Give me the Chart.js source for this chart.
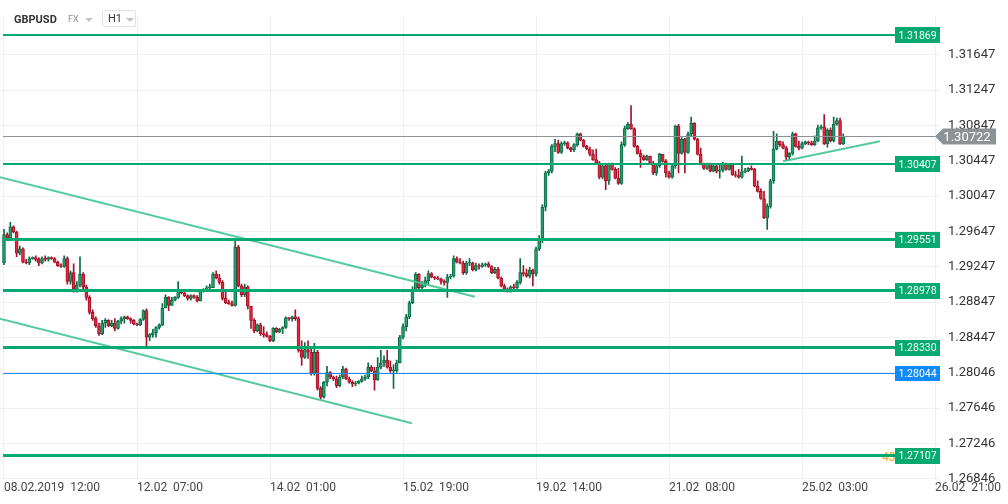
<!DOCTYPE html>
<html>
<head>
<meta charset="utf-8">
<script src="https://cdn.jsdelivr.net/npm/chart.js@4.4.1/dist/chart.umd.min.js"></script>
<style>
  body { margin: 0; background: #fff; font-family: Roboto, sans-serif; }
  #wrap { position: relative; width: 1008px; height: 504px; }
  .hdr { position: absolute; top: 11px; height: 17px; line-height: 17px; color: #333; }
  .sym { left: 14px; font-size: 11px; font-weight: bold; }
  .mkt { left: 68px; font-size: 9px; color: #8c8c8c; }
  .tri { position: absolute; width: 0; height: 0; border-left: 4px solid transparent; border-right: 4px solid transparent; border-top: 4px solid #c4c4c4; }
  .tf { left: 102px; top: 10px; width: 34px; height: 17px; border: 1px solid #e2e2e2; border-radius: 2px; box-sizing: border-box; font-size: 11px; padding-left: 5px; line-height: 15px; }
</style>
</head>
<body>
<div id="wrap">
  <canvas id="chart"></canvas>
  <div class="hdr sym">GBPUSD</div>
  <div class="hdr mkt">FX</div>
  <div class="tri" style="left:85px;top:18px"></div>
  <div class="hdr tf">H1</div>
  <div class="tri" style="left:126px;top:18px"></div>
</div>
<script>
// H1 candles, GBPUSD, 08.02.2019 12:00 onward (one entry per hour)
const firstOpen = 1.2929;
const closes = [
  1.2961, 1.2957, 1.2970, 1.2964, 1.2940, 1.2945, 1.2930, 1.2929, 1.2934, 1.2935,
  1.2933, 1.2929, 1.2934, 1.2933, 1.2935, 1.2934, 1.2930, 1.2926, 1.2925, 1.2934,
  1.2908, 1.2918, 1.2899, 1.2904, 1.2916, 1.2902, 1.2890, 1.2873, 1.2866, 1.2858,
  1.2849, 1.2861, 1.2864, 1.2858, 1.2861, 1.2855, 1.2863, 1.2866, 1.2868, 1.2866,
  1.2864, 1.2860, 1.2859, 1.2865, 1.2875, 1.2845, 1.2848, 1.2850, 1.2856, 1.2859,
  1.2878, 1.2890, 1.2881, 1.2887, 1.2890, 1.2898, 1.2895, 1.2892, 1.2889, 1.2892,
  1.2890, 1.2886, 1.2898, 1.2899, 1.2901, 1.2901, 1.2916, 1.2912, 1.2907, 1.2889,
  1.2884, 1.2883, 1.2881, 1.2947, 1.2903, 1.2893, 1.2902, 1.2880, 1.2864, 1.2852,
  1.2859, 1.2849, 1.2848, 1.2846, 1.2841, 1.2855, 1.2851, 1.2854, 1.2856, 1.2867,
  1.2866, 1.2868, 1.2866, 1.2830, 1.2822, 1.2831, 1.2828, 1.2804, 1.2828, 1.2787,
  1.2777, 1.2794, 1.2805, 1.2800, 1.2798, 1.2790, 1.2800, 1.2809, 1.2798, 1.2794,
  1.2792, 1.2793, 1.2795, 1.2798, 1.2800, 1.2811, 1.2807, 1.2797, 1.2811, 1.2816,
  1.2819, 1.2811, 1.2807, 1.2807, 1.2816, 1.2845, 1.2857, 1.2868, 1.2884, 1.2899,
  1.2916, 1.2901, 1.2904, 1.2909, 1.2917, 1.2913, 1.2912, 1.2911, 1.2908, 1.2907,
  1.2913, 1.2914, 1.2934, 1.2930, 1.2929, 1.2918, 1.2929, 1.2929, 1.2921, 1.2926,
  1.2925, 1.2927, 1.2928, 1.2925, 1.2918, 1.2922, 1.2912, 1.2903, 1.2899, 1.2898,
  1.2902, 1.2901, 1.2907, 1.2918, 1.2917, 1.2914, 1.2921, 1.2917, 1.2945, 1.2957,
  1.2992, 1.3031, 1.3033, 1.3061, 1.3064, 1.3054, 1.3064, 1.3065, 1.3059, 1.3057,
  1.3063, 1.3075, 1.3068, 1.3061, 1.3058, 1.3052, 1.3046, 1.3042, 1.3026, 1.3039,
  1.3022, 1.3041, 1.3035, 1.3025, 1.3019, 1.3063, 1.3081, 1.3086, 1.3081, 1.3061,
  1.3053, 1.3049, 1.3046, 1.3050, 1.3042, 1.3031, 1.3039, 1.3052, 1.3044, 1.3031,
  1.3026, 1.3039, 1.3084, 1.3053, 1.3069, 1.3054, 1.3075, 1.3087, 1.3069, 1.3052,
  1.3041, 1.3036, 1.3041, 1.3033, 1.3039, 1.3033, 1.3034, 1.3041, 1.3035, 1.3040,
  1.3029, 1.3028, 1.3026, 1.3032, 1.3033, 1.3036, 1.3035, 1.3016, 1.3010, 1.3002,
  1.2980, 1.2993, 1.3022, 1.3058, 1.3067, 1.3063, 1.3059, 1.3049, 1.3053, 1.3075,
  1.3061, 1.3059, 1.3064, 1.3066, 1.3065, 1.3063, 1.3067, 1.3082, 1.3083, 1.3064,
  1.3079, 1.3067, 1.3086, 1.3090, 1.3064, 1.30722
];
const highs = [
  1.2967, 1.2963, 1.2975, 1.2971, 1.2965, 1.2948, 1.2946, 1.2933, 1.2936, 1.2936,
  1.2937, 1.2935, 1.2936, 1.2937, 1.2936, 1.2936, 1.2935, 1.2931, 1.2928, 1.2937,
  1.2936, 1.2920, 1.2928, 1.2908, 1.2936, 1.2918, 1.2904, 1.2892, 1.2876, 1.2868,
  1.2861, 1.2864, 1.2866, 1.2865, 1.2864, 1.2866, 1.2864, 1.2868, 1.2869, 1.2869,
  1.2867, 1.2865, 1.2861, 1.2866, 1.2876, 1.2877, 1.2849, 1.2854, 1.2857, 1.2860,
  1.2883, 1.2893, 1.2891, 1.2890, 1.2891, 1.2908, 1.2899, 1.2896, 1.2893, 1.2893,
  1.2893, 1.2892, 1.2899, 1.2900, 1.2903, 1.2905, 1.2918, 1.2920, 1.2916, 1.2909,
  1.2896, 1.2887, 1.2886, 1.2957, 1.2949, 1.2905, 1.2905, 1.2903, 1.2880, 1.2866,
  1.2860, 1.2861, 1.2857, 1.2851, 1.2847, 1.2856, 1.2856, 1.2855, 1.2857, 1.2868,
  1.2867, 1.2869, 1.2876, 1.2868, 1.2841, 1.2839, 1.2841, 1.2832, 1.2838, 1.2830,
  1.2789, 1.2795, 1.2812, 1.2806, 1.2801, 1.2801, 1.2802, 1.2812, 1.2810, 1.2800,
  1.2796, 1.2795, 1.2796, 1.2801, 1.2802, 1.2816, 1.2813, 1.2811, 1.2822, 1.2830,
  1.2824, 1.2830, 1.2818, 1.2814, 1.2819, 1.2847, 1.2860, 1.2871, 1.2886, 1.2902,
  1.2918, 1.2917, 1.2908, 1.2913, 1.2920, 1.2918, 1.2914, 1.2914, 1.2912, 1.2910,
  1.2916, 1.2916, 1.2937, 1.2936, 1.2934, 1.2931, 1.2931, 1.2934, 1.2930, 1.2929,
  1.2928, 1.2929, 1.2929, 1.2930, 1.2926, 1.2924, 1.2924, 1.2913, 1.2905, 1.2901,
  1.2903, 1.2905, 1.2909, 1.2934, 1.2926, 1.2922, 1.2924, 1.2922, 1.2947, 1.2960,
  1.2995, 1.3033, 1.3035, 1.3063, 1.3069, 1.3068, 1.3066, 1.3067, 1.3066, 1.3060,
  1.3064, 1.3076, 1.3076, 1.3069, 1.3062, 1.3060, 1.3057, 1.3058, 1.3044, 1.3040,
  1.3040, 1.3042, 1.3042, 1.3037, 1.3036, 1.3066, 1.3084, 1.3088, 1.3107, 1.3082,
  1.3062, 1.3057, 1.3051, 1.3051, 1.3050, 1.3044, 1.3040, 1.3053, 1.3052, 1.3046,
  1.3033, 1.3040, 1.3085, 1.3086, 1.3071, 1.3070, 1.3077, 1.3094, 1.3088, 1.3070,
  1.3059, 1.3042, 1.3042, 1.3042, 1.3040, 1.3040, 1.3040, 1.3043, 1.3042, 1.3041,
  1.3041, 1.3033, 1.3035, 1.3050, 1.3036, 1.3037, 1.3039, 1.3036, 1.3022, 1.3013,
  1.3010, 1.2996, 1.3024, 1.3078, 1.3075, 1.3066, 1.3066, 1.3061, 1.3054, 1.3077,
  1.3076, 1.3067, 1.3066, 1.3067, 1.3067, 1.3067, 1.3073, 1.3085, 1.3085, 1.3097,
  1.3081, 1.3082, 1.3094, 1.3093, 1.3093, 1.3075
];
const lows = [
  1.2927, 1.2956, 1.2956, 1.2963, 1.2936, 1.2938, 1.2929, 1.2928, 1.2927, 1.2933,
  1.2931, 1.2926, 1.2928, 1.2931, 1.2931, 1.2933, 1.2929, 1.2925, 1.2924, 1.2924,
  1.2905, 1.2905, 1.2896, 1.2896, 1.2902, 1.2900, 1.2887, 1.2871, 1.2864, 1.2856,
  1.2847, 1.2848, 1.2856, 1.2857, 1.2857, 1.2852, 1.2854, 1.2860, 1.2861, 1.2865,
  1.2861, 1.2859, 1.2858, 1.2858, 1.2864, 1.2834, 1.2841, 1.2845, 1.2845, 1.2854,
  1.2858, 1.2878, 1.2875, 1.2881, 1.2886, 1.2889, 1.2894, 1.2891, 1.2887, 1.2887,
  1.2889, 1.2885, 1.2886, 1.2896, 1.2898, 1.2900, 1.2901, 1.2911, 1.2905, 1.2887,
  1.2883, 1.2882, 1.2880, 1.2880, 1.2902, 1.2891, 1.2891, 1.2877, 1.2855, 1.2850,
  1.2851, 1.2847, 1.2845, 1.2845, 1.2840, 1.2840, 1.2850, 1.2850, 1.2849, 1.2855,
  1.2864, 1.2863, 1.2864, 1.2828, 1.2813, 1.2821, 1.2821, 1.2802, 1.2802, 1.2785,
  1.2775, 1.2776, 1.2790, 1.2798, 1.2796, 1.2788, 1.2789, 1.2798, 1.2797, 1.2793,
  1.2789, 1.2790, 1.2792, 1.2794, 1.2796, 1.2798, 1.2806, 1.2785, 1.2796, 1.2809,
  1.2812, 1.2810, 1.2805, 1.2787, 1.2805, 1.2816, 1.2843, 1.2852, 1.2866, 1.2883,
  1.2898, 1.2900, 1.2899, 1.2902, 1.2905, 1.2912, 1.2910, 1.2910, 1.2905, 1.2904,
  1.2890, 1.2911, 1.2913, 1.2929, 1.2928, 1.2916, 1.2916, 1.2926, 1.2920, 1.2920,
  1.2922, 1.2924, 1.2925, 1.2924, 1.2917, 1.2917, 1.2911, 1.2902, 1.2898, 1.2896,
  1.2896, 1.2898, 1.2899, 1.2905, 1.2914, 1.2913, 1.2912, 1.2903, 1.2914, 1.2943,
  1.2952, 1.2988, 1.3028, 1.3031, 1.3055, 1.3053, 1.3053, 1.3062, 1.3058, 1.3055,
  1.3055, 1.3061, 1.3067, 1.3060, 1.3057, 1.3050, 1.3045, 1.3041, 1.3024, 1.3024,
  1.3012, 1.3018, 1.3034, 1.3024, 1.3018, 1.3018, 1.3061, 1.3080, 1.3080, 1.3060,
  1.3052, 1.3037, 1.3045, 1.3045, 1.3041, 1.3029, 1.3028, 1.3037, 1.3043, 1.3026,
  1.3025, 1.3025, 1.3036, 1.3031, 1.3052, 1.3031, 1.3053, 1.3072, 1.3068, 1.3051,
  1.3040, 1.3035, 1.3035, 1.3032, 1.3032, 1.3031, 1.3025, 1.3032, 1.3034, 1.3034,
  1.3028, 1.3026, 1.3025, 1.3025, 1.3031, 1.3032, 1.3034, 1.3015, 1.3009, 1.3001,
  1.2979, 1.2967, 1.2991, 1.3019, 1.3057, 1.3061, 1.3058, 1.3045, 1.3046, 1.3051,
  1.3060, 1.3057, 1.3058, 1.3063, 1.3063, 1.3062, 1.3062, 1.3066, 1.3080, 1.3063,
  1.3060, 1.3066, 1.3066, 1.3085, 1.3063, 1.3063
];

// time axis: a label every 42 hourly bars
const xTickIndex = [0, 42, 84, 126, 168, 210, 252, 294];
const xTickLabels = ['08.02.2019  12:00', '12.02  07:00', '14.02  01:00', '15.02  19:00',
  '19.02  14:00', '21.02  08:00', '25.02  03:00', '26.02  21:00'];
const yTicks = [1.31647, 1.31247, 1.30847, 1.30447, 1.30047, 1.29647, 1.29247,
  1.28847, 1.28447, 1.28046, 1.27646, 1.27246, 1.26846];

// drawn levels and trend lines (bar index, price)
const levelPrices = [1.31869, 1.30407, 1.29551, 1.28978, 1.28330, 1.27107];
const alertPrice = 1.28044;
const lastPrice = 1.30722;
const trendLines = [
  [[-1.3, 1.30261], [148.7, 1.28908]],
  [[-1.3, 1.28660], [128.8, 1.27476]],
  [[246.0, 1.30441], [276.6, 1.30667]]
];

const UP_FILL = '#23a070', UP_EDGE = '#0c6c46';
const DN_FILL = '#e3283e', DN_EDGE = '#a5122a';
const LEVEL_GREEN = '#06a96f';
const ALERT_BLUE = '#0f8bff';
const levelWidths = [2, 2, 3, 3, 3, 3];

const opens = closes.map((c, i) => i === 0 ? firstOpen : closes[i - 1]);
const isUp = closes.map((c, i) => c >= opens[i]);

const bodies = closes.map((c, i) => ({ x: i, y: [opens[i], c] }));
const wicks = closes.map((c, i) => ({
  x: i,
  y: [Math.min(lows[i], opens[i], c), Math.max(highs[i], opens[i], c)]
}));

function drawTag(ctx, text, left, mid, w, h, bg, font) {
  ctx.fillStyle = bg;
  ctx.fillRect(left, Math.round(mid - h / 2), w, h);
  ctx.fillStyle = '#fff';
  ctx.font = font;
  ctx.textAlign = 'center';
  ctx.textBaseline = 'middle';
  ctx.fillText(text, left + w / 2, mid + 1);
}

const levelPlugin = {
  id: 'levels',
  afterDraw(chart) {
    const { ctx, chartArea: area, scales: { y } } = chart;
    const tagLeft = area.right - 45;
    ctx.save();

    // last price line and arrow tag
    let py = Math.round(y.getPixelForValue(lastPrice));
    ctx.fillStyle = '#8d9296';
    ctx.fillRect(area.left + 3, py, area.right - 8 - area.left, 1);
    ctx.beginPath();
    ctx.moveTo(area.right - 5, py + 0.5);
    ctx.lineTo(area.right + 3, py - 7.5);
    ctx.lineTo(area.right + 56, py - 7.5);
    ctx.lineTo(area.right + 56, py + 8.5);
    ctx.lineTo(area.right + 3, py + 8.5);
    ctx.closePath();
    ctx.fill();
    ctx.fillStyle = '#fff';
    ctx.font = '13px Roboto';
    ctx.textAlign = 'center';
    ctx.textBaseline = 'middle';
    ctx.fillText(lastPrice.toFixed(5), area.right + 27, py + 1.5);

    // alert line (blue), 1px
    py = Math.round(y.getPixelForValue(alertPrice));
    ctx.fillStyle = ALERT_BLUE;
    ctx.fillRect(area.left + 3, py, tagLeft - area.left - 3, 1);
    drawTag(ctx, alertPrice.toFixed(5), tagLeft, py + 0.5, 45, 15, ALERT_BLUE, '10.5px Roboto');

    // countdown text sitting behind the lowest tag
    ctx.fillStyle = '#f5a623';
    ctx.font = '12px Roboto';
    ctx.textAlign = 'left';
    ctx.textBaseline = 'middle';
    ctx.fillText('43', tagLeft - 13, y.getPixelForValue(levelPrices[5]) + 2);

    // support / resistance levels
    levelPrices.forEach((p, k) => {
      const w = levelWidths[k];
      const ly = Math.round(y.getPixelForValue(p) - w / 2);
      ctx.fillStyle = LEVEL_GREEN;
      ctx.fillRect(area.left + 3, ly, tagLeft - area.left - 3, w);
      drawTag(ctx, p.toFixed(5), tagLeft, ly + w / 2, 45, 16, LEVEL_GREEN, '10.5px Roboto');
    });
    ctx.restore();
  }
};

const trendSets = trendLines.map(pts => ({
  type: 'line',
  data: pts.map(([x, v]) => ({ x, y: v })),
  borderColor: 'rgba(66, 196, 146, 0.9)',
  borderWidth: 2,
  pointRadius: 0,
  order: 0
}));

new Chart(document.getElementById('chart'), {
  type: 'bar',
  data: {
    datasets: [
      {
        data: bodies,
        backgroundColor: isUp.map(u => u ? UP_FILL : DN_FILL),
        borderColor: isUp.map(u => u ? UP_EDGE : DN_EDGE),
        borderWidth: 1,
        borderSkipped: false,
        barThickness: 3,
        minBarLength: 1,
        grouped: false,
        order: 1
      },
      {
        data: wicks,
        backgroundColor: isUp.map(u => u ? UP_EDGE : DN_EDGE),
        borderWidth: 0,
        barThickness: 1,
        minBarLength: 1,
        grouped: false,
        order: 2
      },
      ...trendSets
    ]
  },
  options: {
    responsive: true,
    maintainAspectRatio: false,
    animation: false,
    layout: { padding: { top: 14, left: 0, right: 0, bottom: 0 } },
    plugins: { legend: { display: false }, tooltip: { enabled: false } },
    scales: {
      x: {
        type: 'linear',
        min: -1.26,
        max: 295.56,
        offset: false,
        afterFit: s => { s.height = 24; },
        afterBuildTicks: s => { s.ticks = xTickIndex.map(v => ({ value: v })); },
        grid: { color: '#f0f0f0', drawTicks: false, offset: false },
        border: { display: false },
        ticks: {
          autoSkip: false,
          maxRotation: 0,
          align: 'start',
          padding: 1,
          color: '#444',
          font: { family: 'Roboto', size: 12 },
          callback: v => xTickLabels[xTickIndex.indexOf(v)]
        }
      },
      y: {
        position: 'right',
        min: 1.26834,
        max: 1.32087,
        afterFit: s => { s.width = 68; },
        afterBuildTicks: s => { s.ticks = yTicks.map(v => ({ value: v })); },
        grid: { color: '#f0f0f0', drawTicks: false },
        border: { display: false },
        ticks: {
          padding: 8,
          color: '#333',
          font: { family: 'Roboto', size: 13 },
          callback: v => v.toFixed(5)
        }
      }
    }
  },
  plugins: [levelPlugin]
});
</script>
</body>
</html>
